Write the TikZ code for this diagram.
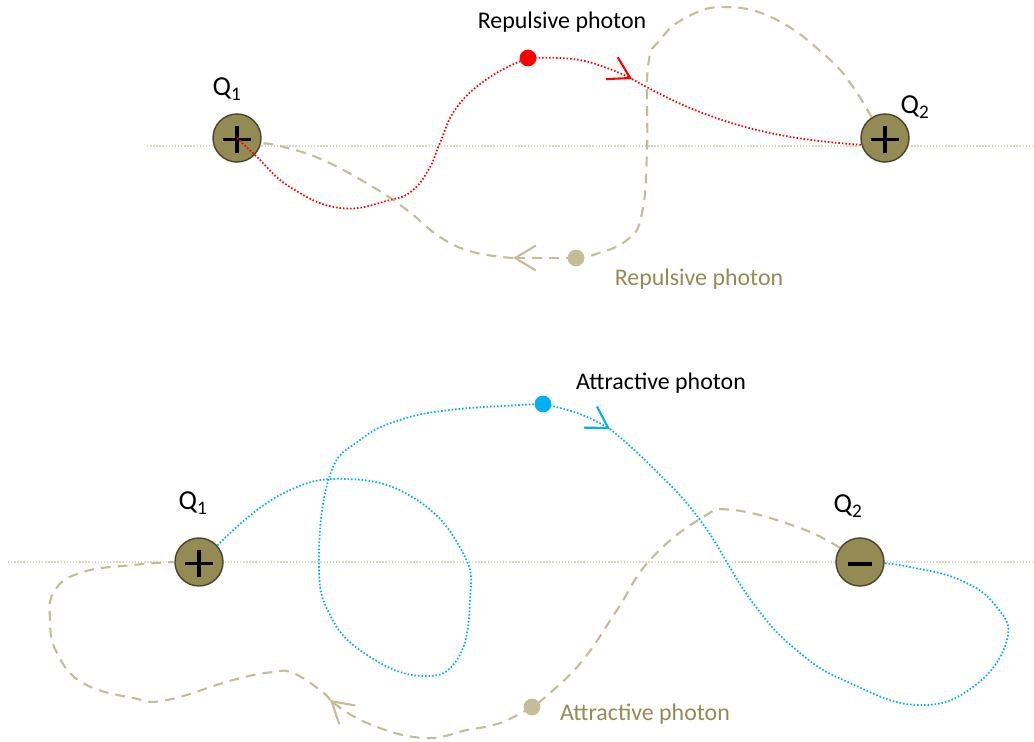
\documentclass[tikz,border=0pt]{standalone}
\usepackage{fontspec}
\setmainfont{Carlito}
\usepackage{tikz}
\usetikzlibrary{arrows.meta}
\definecolor{vermelho}{HTML}{FF0000}
\definecolor{azul}{HTML}{00B0F0}
\definecolor{bege}{HTML}{C4BD97}
\definecolor{oliva}{HTML}{948A54}
\definecolor{bordacarga}{HTML}{4A4528}
\definecolor{linhaeixo}{HTML}{DDD9C3}
\tikzset{
  carga/.style={circle,draw=bordacarga,fill=oliva,line width=1pt,minimum size=1.2cm,inner sep=0pt},
  positiva/.style={carga,path picture={
      \draw[black,line width=2.2pt] (path picture bounding box.center) ++(-0.34cm,-0.03cm) -- ++(0.68cm,0)
        (path picture bounding box.center) ++(0,0.31cm) -- ++(0,-0.68cm);}},
  negativa/.style={carga,path picture={
      \draw[black,line width=2.8pt] (path picture bounding box.center) ++(-0.31cm,-0.05cm) -- ++(0.62cm,0);}},
  fotao/.style={circle,fill=#1,minimum size=0.42cm,inner sep=0pt},
  rotulo/.style={font=\fontsize{17}{20}\selectfont,inner sep=0pt},
  nomecarga/.style={font=\fontsize{19.5}{22}\selectfont,inner sep=0pt},
  pontilhado/.style={#1,line width=1.25pt,dash pattern=on 1.1pt off 1.4pt},
  tracejado/.style={bege,line width=1.5pt,dash pattern=on 7pt off 5pt},
  ponta/.style={-{Straight Barb[length=0.52cm,width=0.62cm,line width=1.5pt]}},
  eixo/.style={linhaeixo,line width=1.2pt,dash pattern=on 1pt off 1.2pt}
}

\begin{document}
\begin{tikzpicture}[x=0.025cm,y=-0.025cm]
  \useasboundingbox (0,0) rectangle (1034,742);
  % eixos
  \draw[eixo] (147,146) -- (1034,146);
  \draw[eixo] (8,562) -- (1034,562);

  % repulsao
  \node[positiva] (q1a) at (237,138) {};
  \node[positiva] (q2a) at (885,138) {};
  \node[nomecarga] (q1aRot) at (227,89) {Q\textsubscript{1}};
  \node[nomecarga] (q2aRot) at (915,107) {Q\textsubscript{2}};
  \node[fotao=vermelho] (fotR) at (528,58) {};
  \node[fotao=bege] (fotB1) at (576,258) {};
  \coordinate (setaR) at (632,79);
  \coordinate (setaB1) at (513,258);
  \node[rotulo] (rotR) at (562,22) {Repulsive photon};
  \node[rotulo,text=oliva] (rotB1) at (699,279) {Repulsive photon};

  \draw[tracejado] plot[smooth,tension=0.75] coordinates {(q2a.123) (853,87) (827,57) (777,20) (727,7)
    (687,17) (660,40) (648,67) (647,150) (642,213) (627,240) (593,255) (fotB1.center)};
  \draw[tracejado,ponta] (fotB1.center) -- (setaB1);
  \draw[tracejado] plot[smooth,tension=0.75] coordinates {(setaB1) (473,252) (440,237) (407,210)
    (373,187) (323,160) (280,146) (q1a.-13)};

  \draw[pontilhado=vermelho] plot[smooth,tension=0.75] coordinates {(q1a.center) (257,157) (290,187)
    (340,208) (390,200) (413,190) (430,167) (440,143) (457,107) (490,77) (fotR.center)};
  \draw[pontilhado=vermelho,ponta] plot[smooth,tension=0.75] coordinates {(fotR.center) (573,59) (607,68) (setaR)};
  \draw[pontilhado=vermelho] plot[smooth,tension=0.75] coordinates {(setaR) (700,112) (780,135)
    (q2a.196)};

  % atracao
  \node[positiva] (q1b) at (199,562) {};
  \node[negativa] (q2b) at (860,562) {};
  \node[nomecarga] (q1bRot) at (193,503) {Q\textsubscript{1}};
  \node[nomecarga] (q2bRot) at (848,506) {Q\textsubscript{2}};
  \node[fotao=azul] (fotA) at (543,404) {};
  \node[fotao=bege] (fotB2) at (532,707) {};
  \coordinate (setaA) at (610,429);
  \coordinate (setaB2) at (330,700);
  \node[rotulo] (rotA) at (661,383) {Attractive photon};
  \node[rotulo,text=oliva] (rotB2) at (645,714) {Attractive photon};

  \draw[tracejado] plot[smooth,tension=0.75] coordinates {(q2b.145) (800,528) (733,510) (700,519)
    (650,560) (617,610) (583,660) (550,693) (fotB2.center)};
  \draw[tracejado,ponta] plot[smooth,tension=0.75] coordinates {(fotB2.center) (500,723) (467,730)
    (423,738) (367,723) (setaB2)};
  \draw[tracejado] plot[smooth,tension=0.75] coordinates {(setaB2) (320,690) (293,673) (273,672)
    (233,680) (167,700) (133,698) (83,683) (57,653) (50,620) (55,590) (83,572) (133,565) (q1b.west)};

  \draw[pontilhado=azul] plot[smooth,tension=0.75] coordinates {(q1b.42) (280,495) (348,479)
    (417,500) (463,553) (470,600) (458,658) (422,676) (367,655) (330,615) (319,560)
    (330,475) (360,440) (400,420) (450,410) (520,405) (fotA.center)};
  \draw[pontilhado=azul,ponta] plot[smooth,tension=0.75] coordinates {(fotA.center) (580,414) (setaA)};
  \draw[pontilhado=azul] plot[smooth,tension=0.75] coordinates {(setaA) (650,465) (700,520)
    (753,603) (800,653) (850,683) (917,705) (973,687) (1007,640) (995,605) (960,580) (910,567) (q2b.-3)};
\end{tikzpicture}
\end{document}
